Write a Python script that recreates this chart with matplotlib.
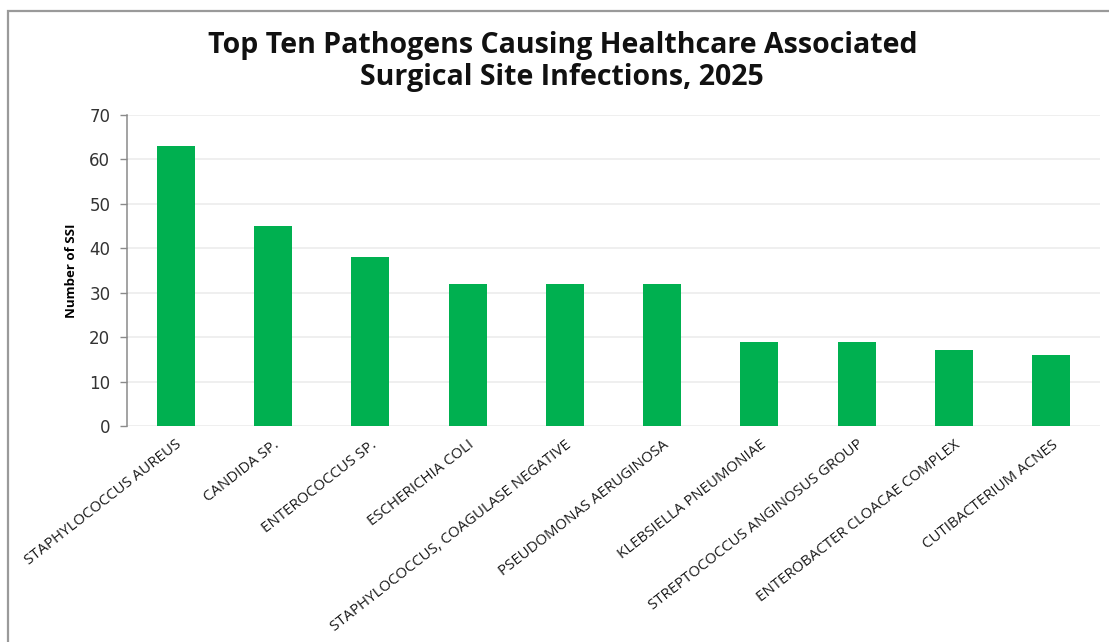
import matplotlib
matplotlib.use("Agg")
import matplotlib.pyplot as plt
from matplotlib.patches import Rectangle

pathogens = [
    "STAPHYLOCOCCUS AUREUS",
    "CANDIDA SP.",
    "ENTEROCOCCUS SP.",
    "ESCHERICHIA COLI",
    "STAPHYLOCOCCUS, COAGULASE NEGATIVE",
    "PSEUDOMONAS AERUGINOSA",
    "KLEBSIELLA PNEUMONIAE",
    "STREPTOCOCCUS ANGINOSUS GROUP",
    "ENTEROBACTER CLOACAE COMPLEX",
    "CUTIBACTERIUM ACNES",
]
ssi_counts = [63, 45, 38, 32, 32, 32, 19, 19, 17, 16]
y_ticks = [0, 10, 20, 30, 40, 50, 60, 70]

W, H = 1109, 642
fig = plt.figure(figsize=(W / 100, H / 100), dpi=100)
fig.patch.set_facecolor("white")

# outer chart frame (extends past the right and bottom edges)
fig.add_artist(Rectangle((8 / W, -0.05), 1.2, 1 - 11 / H + 0.05,
                         transform=fig.transFigure, fill=False,
                         edgecolor="#9a9a9a", linewidth=1.6))

ax = fig.add_axes([127 / W, 1 - 426 / H, (1100 - 127) / W, (426 - 115) / H])
x = range(len(pathogens))
ax.bar(x, ssi_counts, width=0.39, color="#00B050", zorder=3)

ax.set_xlim(-0.5, len(pathogens) - 0.5)
ax.set_ylim(0, 70)
ax.set_yticks(y_ticks)
ax.set_yticklabels([str(v) for v in y_ticks], fontsize=12,
                   family="DejaVu Sans", color="#333333")
ax.yaxis.grid(True, color="#ececec", linewidth=1.2, zorder=0)
ax.set_axisbelow(True)

ax.set_xticks(list(x))
ax.set_xticklabels(pathogens, rotation=38, ha="right", va="top",
                   rotation_mode="anchor", fontsize=10.8,
                   family="Open Sans", color="#1a1a1a")
ax.tick_params(axis="x", length=0, pad=8)
ax.tick_params(axis="y", length=5, width=1, color="#8a8a8a", pad=7)

for side in ("top", "right", "bottom"):
    ax.spines[side].set_visible(False)
ax.spines["left"].set_color("#8a8a8a")
ax.spines["left"].set_linewidth(1.1)

ax.set_ylabel("Number of SSI", fontsize=9.5, fontweight="bold",
              family="Open Sans", labelpad=8)

fig.text(0.507, 1 - 45 / H, "Top Ten Pathogens Causing Healthcare Associated",
         ha="center", va="center", fontsize=20.5, fontweight="bold",
         family="Open Sans", color="#111111")
fig.text(0.507, 1 - 77 / H, "Surgical Site Infections, 2025",
         ha="center", va="center", fontsize=20.5, fontweight="bold",
         family="Open Sans", color="#111111")

fig.savefig("out.png", dpi=100, facecolor="white")
